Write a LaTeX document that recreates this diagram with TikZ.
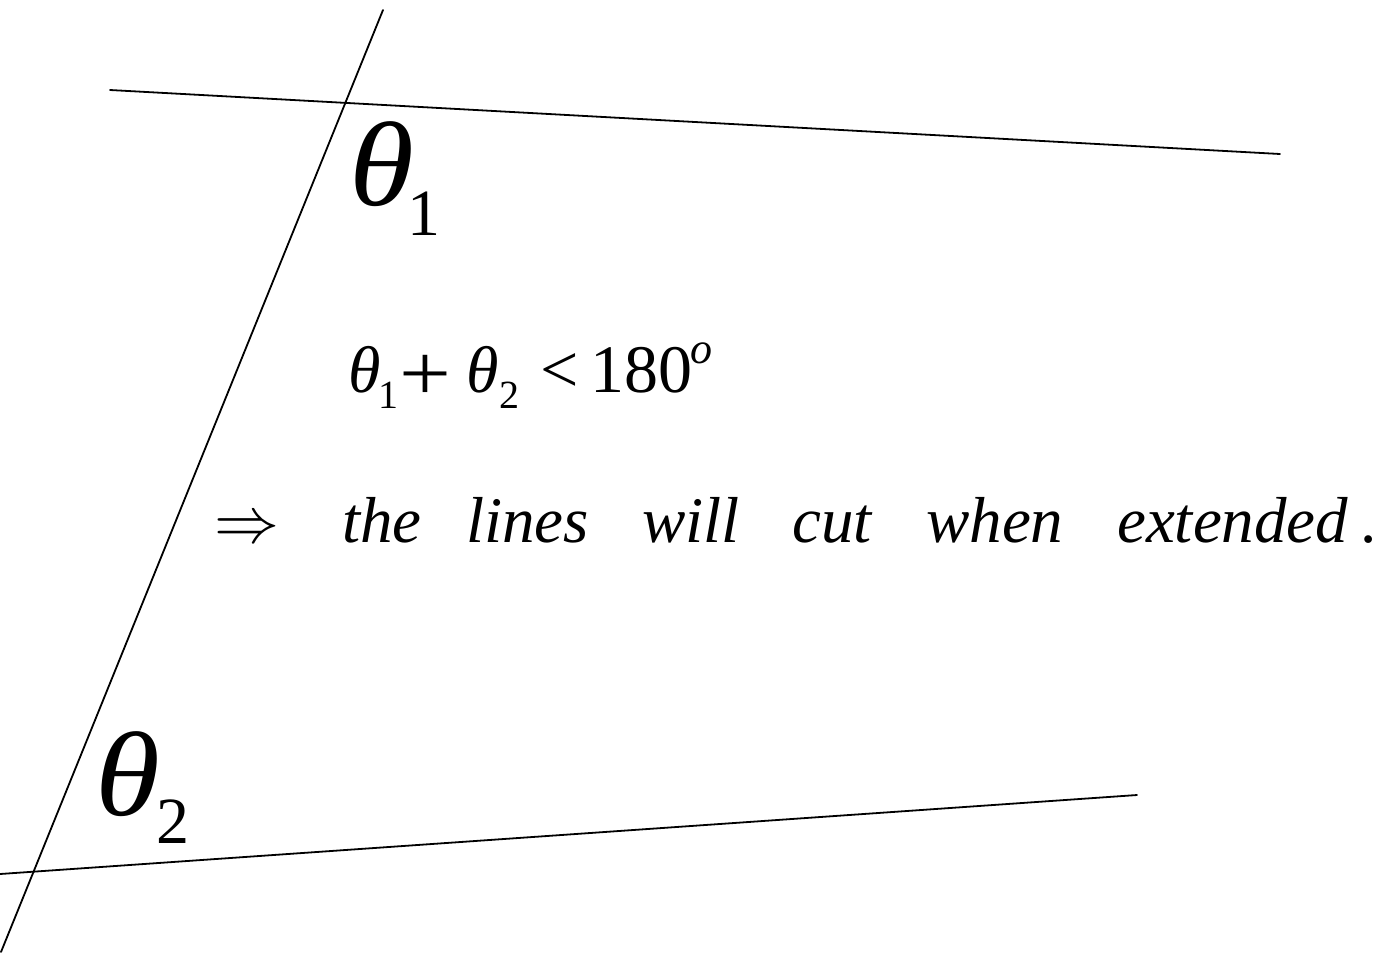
\documentclass[tikz,border=0pt]{standalone}
\usepackage{fontspec}
\setmainfont{Liberation Serif}
\newcommand{\fsz}[1]{\fontsize{#1}{#1}\selectfont}
\begin{document}
\begin{tikzpicture}[x=1pt,y=-1pt,
  txt/.style={inner sep=0pt, anchor=base west},
  ln/.style={line width=1.8pt, line cap=round}]
\useasboundingbox (0,0) rectangle (1388,954);
% lines
\coordinate (tTop) at (383,10);
\coordinate (tBot) at (1,952);
\coordinate (aL) at (110,90);
\coordinate (aR) at (1280,154);
\coordinate (bL) at (0,874);
\coordinate (bR) at (1137,795);
\draw[ln] (tTop) -- (tBot);
\draw[ln] (aL) -- (aR);
\draw[ln] (bL) -- (bR);
% angle labels
\node[txt] (th1) at (349,205) {\scalebox{1.1}[1]{\fsz{120}\itshape θ}\kern-7pt\raisebox{-30pt}{\fsz{66}\upshape 1}};
\node[txt] (th2) at (95,815) {\scalebox{1.1}[1]{\fsz{120}\itshape θ}\kern-4pt\raisebox{-28pt}{\fsz{66}\upshape 2}};
% formula
\node[txt] (fa) at (348,392) {\fsz{66}\itshape θ};
\node[txt] (fb) at (378,408) {\fsz{40}1};
\node[txt] (fc) at (399,400) {\scalebox{1.15}[1]{\fsz{80}+}};
\node[txt] (fd) at (466,392) {\fsz{66}\itshape θ};
\node[txt] (fe) at (499,408) {\fsz{40}2};
\node[txt] (ff) at (540,392) {\fsz{68}<};
\node[txt] (fg) at (590,392) {\fsz{68}180};
\node[txt] (fh) at (690,363) {\fsz{44}\itshape o};
% statement
\node[txt] (imp) at (214,542) {\scalebox{6.5}{$\Rightarrow$}};
\node[txt] (w1) at (342,542) {\fsz{65}\itshape the};
\node[txt] (w2) at (466,542) {\fsz{65}\itshape lines};
\node[txt] (w3) at (642,542) {\fsz{65}\itshape will};
\node[txt] (w4) at (792,542) {\fsz{65}\itshape cut};
\node[txt] (w5) at (926,542) {\fsz{65}\itshape when};
\node[txt] (w6) at (1117,542) {\fsz{65}\itshape extended\kern12pt\upshape .};
\end{tikzpicture}
\end{document}
